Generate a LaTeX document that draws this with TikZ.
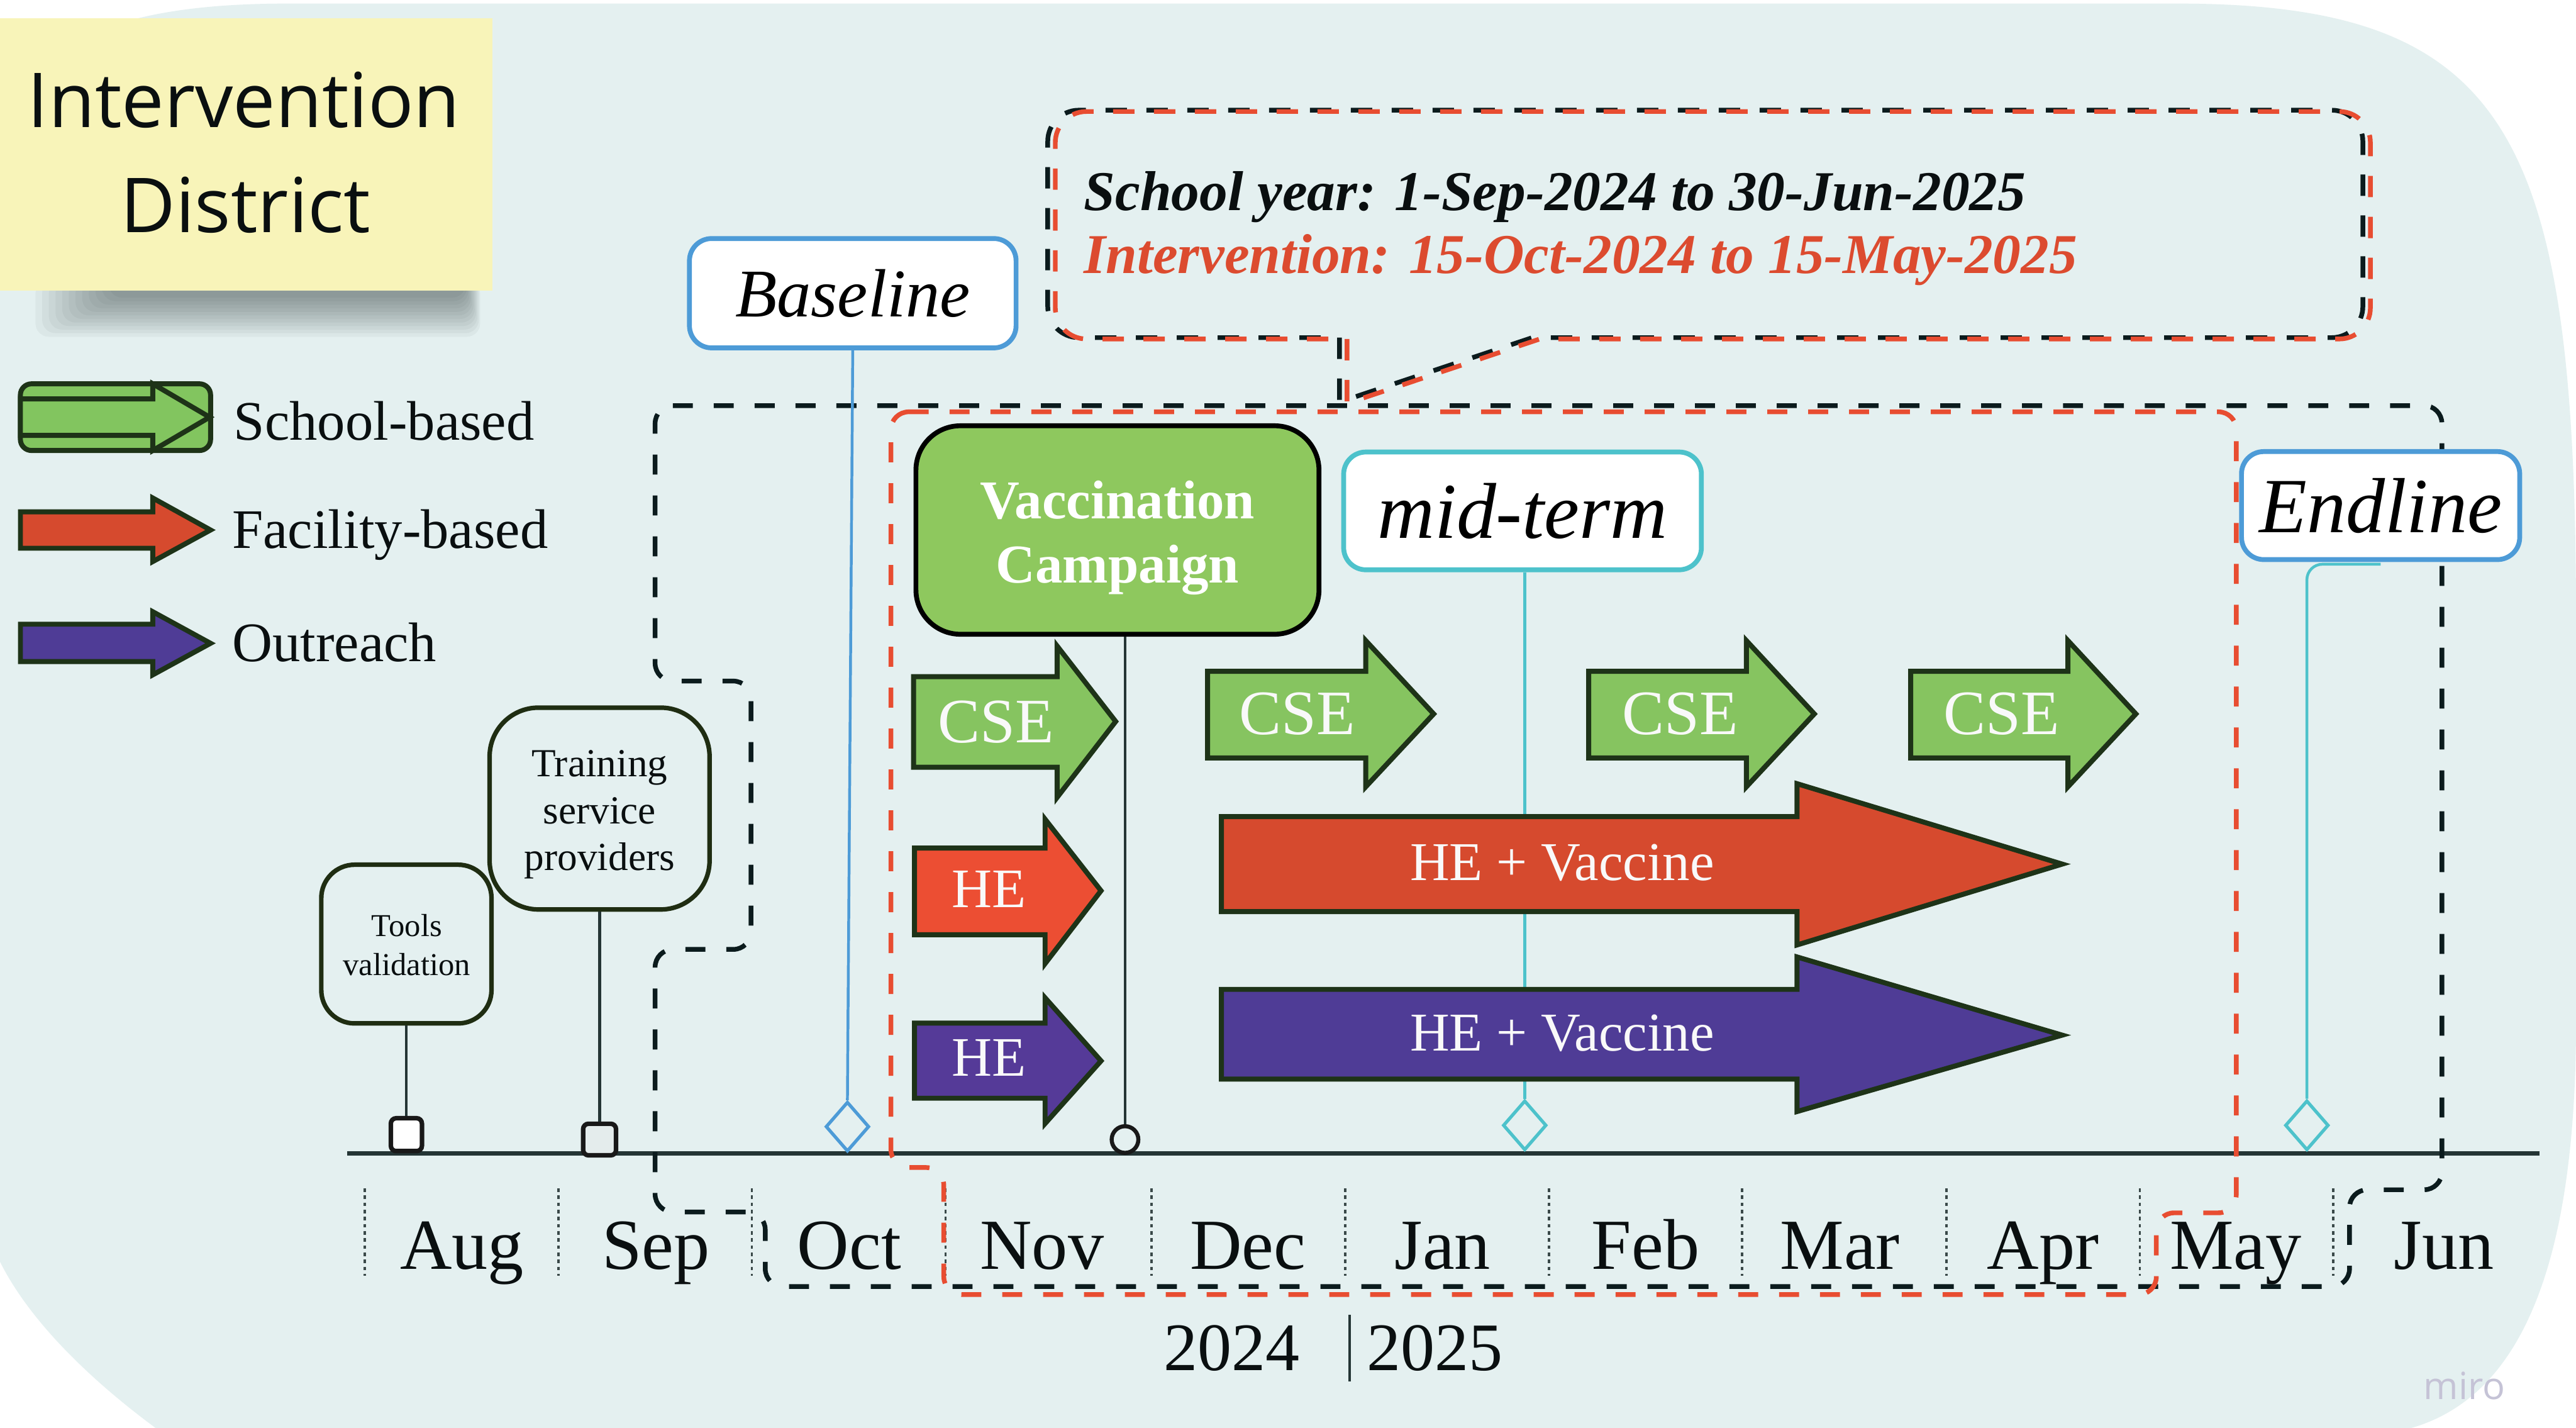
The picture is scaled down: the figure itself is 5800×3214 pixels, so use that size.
\documentclass[tikz,border=0pt]{standalone}
\usepackage{fontspec}
\setmainfont{Liberation Serif}
\newfontfamily\osans{Open Sans}
\usetikzlibrary{shapes.geometric}
\definecolor{bgc}{HTML}{E4F0F0}
\definecolor{stickyc}{HTML}{F8F4B9}
\definecolor{shadowc}{HTML}{1A2A2A}
\definecolor{dkout}{HTML}{1E3318}
\definecolor{greenA}{HTML}{86C460}
\definecolor{greenV}{HTML}{8EC85E}
\definecolor{greenL}{HTML}{82C55F}
\definecolor{redS}{HTML}{EC4E33}
\definecolor{redB}{HTML}{D64A2E}
\definecolor{purp}{HTML}{4F3C96}
\definecolor{purpS}{HTML}{553A98}
\definecolor{blueB}{HTML}{4D9BD7}
\definecolor{tealc}{HTML}{4DC2CB}
\definecolor{dred}{HTML}{E84D31}
\definecolor{dblack}{HTML}{0B1B1D}
\definecolor{tlc}{HTML}{243535}
\definecolor{dkbox}{HTML}{1F2D12}
\definecolor{txtred}{HTML}{DC4B2F}
\definecolor{txtblack}{HTML}{0A0F10}
\definecolor{miroc}{HTML}{C5C3D6}
\definecolor{markfill}{HTML}{E4ECEC}
\newcommand{\fsz}[2]{\fontsize{#1}{#2}\selectfont}
\newcommand{\blockarrow}[9]{%
  \draw[arrowshape, fill=#1] (#2,#5) -- (#3,#5) -- (#3,#7) -- (#4,#9) -- (#3,#8) -- (#3,#6) -- (#2,#6) -- cycle;}
\tikzset{
  arrowshape/.style={draw=dkout, line width=3.2pt, line join=miter},
  txt/.style={inner sep=0pt, anchor=base, text=txtblack},
  wtxt/.style={inner sep=0pt, anchor=base, text=white!95!gray},
  dashblack/.style={draw=dblack, line width=3pt, dash pattern=on 0.45cm off 0.47cm},
  dashred/.style={draw=dred, line width=3pt, dash pattern=on 0.45cm off 0.47cm},
  calloutdash/.style={line width=3pt, dash pattern=on 0.48cm off 0.44cm},
  sepline/.style={draw=tlc!90, line width=1.5pt, dash pattern=on 0.08cm off 0.08cm},
  conn/.style={draw=tlc, line width=1.8pt},
  blueconn/.style={draw=blueB, line width=1.8pt},
  tealconn/.style={draw=tealc, line width=1.8pt},
  marker/.style={draw=black!90, line width=2.9pt, inner sep=0pt, rounded corners=0.12cm},
  milebox/.style={line width=3.1pt, fill=white, inner sep=0pt, rounded corners=0.5cm},
  diam/.style={diamond, line width=2.1pt, fill=bgc, inner sep=0pt, minimum width=0.98cm, minimum height=1.12cm},
  taskbox/.style={draw=dkbox, line width=2.9pt, fill=bgc, inner sep=0pt}
}
\begin{document}
\begin{tikzpicture}[x=0.01cm,y=-0.01cm]
\useasboundingbox (0,0) rectangle (5800,3214);
\clip (0,0) rectangle (5800,3214);
\fill[white] (0,0) rectangle (5800,3214);
% background panel
\fill[bgc] (0,400) .. controls (0,100) and (250,8) .. (650,8) -- (4900,8)
  .. controls (5650,8) and (5800,300) .. (5800,1400) -- (5800,2300)
  .. controls (5800,2900) and (5650,3150) .. (5430,3214) -- (350,3214)
  .. controls (250,3140) and (80,3000) .. (0,2840) -- cycle;

% soft shadow of the sticky note (stacked translucent layers)
\foreach \k in {1,...,12}
  \fill[shadowc, opacity=0.045, rounded corners=0.3cm] (260-15*\k,630) rectangle (1045+3*\k,662+8*\k);
% sticky note
\node[fill=stickyc, minimum width=11.28cm, minimum height=6.13cm, inner sep=0pt] (sticky) at (544,347.5) {};
\node[txt, font=\osans\fsz{48.5}{56}] (st1) at (549,287) {Intervention};
\node[txt, font=\osans\fsz{48.5}{56}] (st2) at (553,523) {District};

% legend
\node[draw=dkout, line width=3.2pt, fill=greenL, rounded corners=0.25cm, minimum width=4.28cm, minimum height=1.5cm, inner sep=0pt] (legS) at (260,939) {};
\blockarrow{greenL}{46}{344}{472}{898}{980}{864}{1014}{939}
\blockarrow{redB}{46}{344}{474}{1152}{1234}{1121}{1264}{1193}
\blockarrow{purp}{46}{344}{474}{1405}{1489}{1377}{1519}{1448}
\node[txt, anchor=base west, font=\fsz{35.7}{42}] (legSt) at (526,991) {School-based};
\node[txt, anchor=base west, font=\fsz{35.7}{42}] (legFt) at (522,1234) {Facility-based};
\node[txt, anchor=base west, font=\fsz{35.7}{42}] (legOt) at (522,1489) {Outreach};

% timeline and month separators
\draw[draw=tlc, line width=2.6pt] (782,2596) -- (5718,2596);
\foreach \x in {821,1257,1693,2129,2593,3029,3488,3922,4382,4818,5253}
  \draw[sepline] (\x,2675) -- (\x,2872);

% school year (black) and intervention (red) frames
\draw[dashblack, rounded corners=0.4cm] (1475,913) -- (5498,913) -- (5498,2678) -- (5290,2678) -- (5290,2896)
  -- (1723,2896) -- (1723,2728) -- (1475,2728) -- (1475,2137) -- (1691,2137) -- (1691,1533) -- (1475,1533) -- cycle;
\draw[dashred, rounded corners=0.4cm] (2006,927) -- (5035,927) -- (5035,2730) -- (4855,2730) -- (4855,2914)
  -- (2125,2914) -- (2125,2628) -- (2006,2628) -- cycle;

% callout (black copy and red copy, slightly offset)
\draw[calloutdash, draw=dblack] (3016,760) -- (3016,905) -- (3450,760) [rounded corners=0.7cm] -- (5320,760) -- (5320,248) -- (2359,248) -- (2359,760) -- (3016,760);
\begin{scope}[xshift=0.17cm, yshift=-0.03cm]
\draw[calloutdash, draw=dred] (3016,760) -- (3016,905) -- (3450,760) [rounded corners=0.7cm] -- (5320,760) -- (5320,248) -- (2359,248) -- (2359,760) -- (3016,760);
\end{scope}
\node[txt, anchor=base west, font=\bfseries\itshape\fsz{36}{42}] (cl1) at (2440,473) {School year: 1-Sep-2024 to 30-Jun-2025};
\node[txt, anchor=base west, font=\bfseries\itshape\fsz{36}{42}, text=txtred] (cl2) at (2440,615) {Intervention: 15-Oct-2024 to 15-May-2025};

% milestone boxes
\node[taskbox, rounded corners=0.75cm, minimum width=3.83cm, minimum height=3.57cm] (tools) at (915,2125) {};
\node[inner sep=0pt, align=center, text=txtblack, font=\fsz{20.4}{25}] (toolst) at (916,2127) {Tools\\validation};
\node[taskbox, rounded corners=1.1cm, minimum width=4.95cm, minimum height=4.54cm] (train) at (1350,1820) {};
\node[inner sep=0pt, align=center, text=txtblack, font=\fsz{25.5}{30}] (traint) at (1350,1834) {Training\\service\\providers};
\node[milebox, draw=blueB, minimum width=7.35cm, minimum height=2.46cm, font=\itshape\fsz{43.7}{50}] (base) at (1920,660) {Baseline};
\node[draw=black, line width=3.1pt, fill=greenV, rounded corners=1cm, minimum width=9.07cm, minimum height=4.69cm, inner sep=0pt] (vacc) at (2516,1193) {};
\node[inner sep=0pt, align=center, text=white, font=\bfseries\fsz{35}{41}] (vacct) at (2516,1210) {Vaccination\\Campaign};
\node[milebox, draw=tealc, minimum width=8.05cm, minimum height=2.65cm, font=\itshape\fsz{50.7}{58}] (mid) at (3428,1150) {mid-term};
\node[milebox, draw=blueB, minimum width=6.26cm, minimum height=2.43cm, font=\itshape\fsz{50}{58}] (endl) at (5360,1138) {Endline};

% markers on the timeline
\node[marker, fill=white, minimum width=0.70cm, minimum height=0.74cm] (toolsM) at (915,2554) {};
\node[marker, fill=markfill, minimum width=0.74cm, minimum height=0.71cm] (trainM) at (1350,2565) {};
\node[circle, draw=black!90, line width=2.6pt, fill=bgc, minimum size=0.6cm, inner sep=0pt] (vaccM) at (2533,2565) {};
\node[diam, draw=blueB] (baseD) at (1908,2536) {};
\node[diam, draw=tealc] (midD) at (3433,2533) {};
\node[diam, draw=tealc] (endD) at (5194,2533) {};

% connectors
\draw[conn] (tools.south) -- (toolsM.north);
\draw[conn] (train.south) -- (trainM.north);
\draw[conn] (vaccM.north |- vacc.south) -- (vaccM.north);
\draw[blueconn] (base.south) -- (baseD.north);
\draw[tealconn] (midD.north |- mid.south) -- (midD.north);
\draw[tealconn, rounded corners=0.35cm] ([yshift=-0.05cm]endl.south) -| (endD.north);

% activity arrows
\blockarrow{greenA}{2057}{2380}{2512}{1523}{1727}{1454}{1795}{1624}
\blockarrow{greenA}{2719}{3075}{3228}{1511}{1706}{1442}{1771}{1607}
\blockarrow{greenA}{3577}{3932}{4085}{1511}{1706}{1442}{1771}{1607}
\blockarrow{greenA}{4302}{4656}{4809}{1511}{1706}{1442}{1771}{1607}
\blockarrow{redS}{2059}{2353}{2479}{1909}{2104}{1844}{2169}{2005}
\blockarrow{purpS}{2059}{2353}{2479}{2303}{2472}{2246}{2529}{2388}
\blockarrow{redB}{2750}{4046}{4643}{1838}{2052}{1764}{2127}{1945}
\blockarrow{purp}{2750}{4046}{4643}{2227}{2429}{2154}{2502}{2330}
\node[wtxt, font=\fsz{40.5}{48}] (cse1) at (2242,1672) {CSE};
\node[wtxt, font=\fsz{40.5}{48}] (cse2) at (2921,1653) {CSE};
\node[wtxt, font=\fsz{40.5}{48}] (cse3) at (3783,1653) {CSE};
\node[wtxt, font=\fsz{40.5}{48}] (cse4) at (4507,1653) {CSE};
\node[wtxt, font=\fsz{35.7}{42}] (he1) at (2227,2043) {HE};
\node[wtxt, font=\fsz{35.7}{42}] (he2) at (2227,2422) {HE};
\node[wtxt, font=\fsz{35}{42}] (hev1) at (3517,1982) {HE + Vaccine};
\node[wtxt, font=\fsz{35}{42}] (hev2) at (3517,2366) {HE + Vaccine};

% month labels
\foreach \m/\x in {Aug/1040,Sep/1477,Oct/1912,Nov/2346,Dec/2810,Jan/3248,Feb/3705,Mar/4143,Apr/4600,May/5034,Jun/5503}
  \node[txt, font=\fsz{46}{52}] (m\m) at (\x,2857) {\m};

% years
\node[txt, font=\fsz{43.5}{50}] (y2024) at (2773,3085) {2024};
\node[txt, font=\fsz{43.5}{50}] (y2025) at (3230,3085) {2025};
\draw[draw=tlc, line width=1.5pt] (3039,2960) -- (3039,3110);

% watermark
\node[inner sep=0pt, anchor=base, text=miroc, font=\osans\fsz{24}{28}] (miro) at (5549,3150) {miro};
\end{tikzpicture}
\end{document}
